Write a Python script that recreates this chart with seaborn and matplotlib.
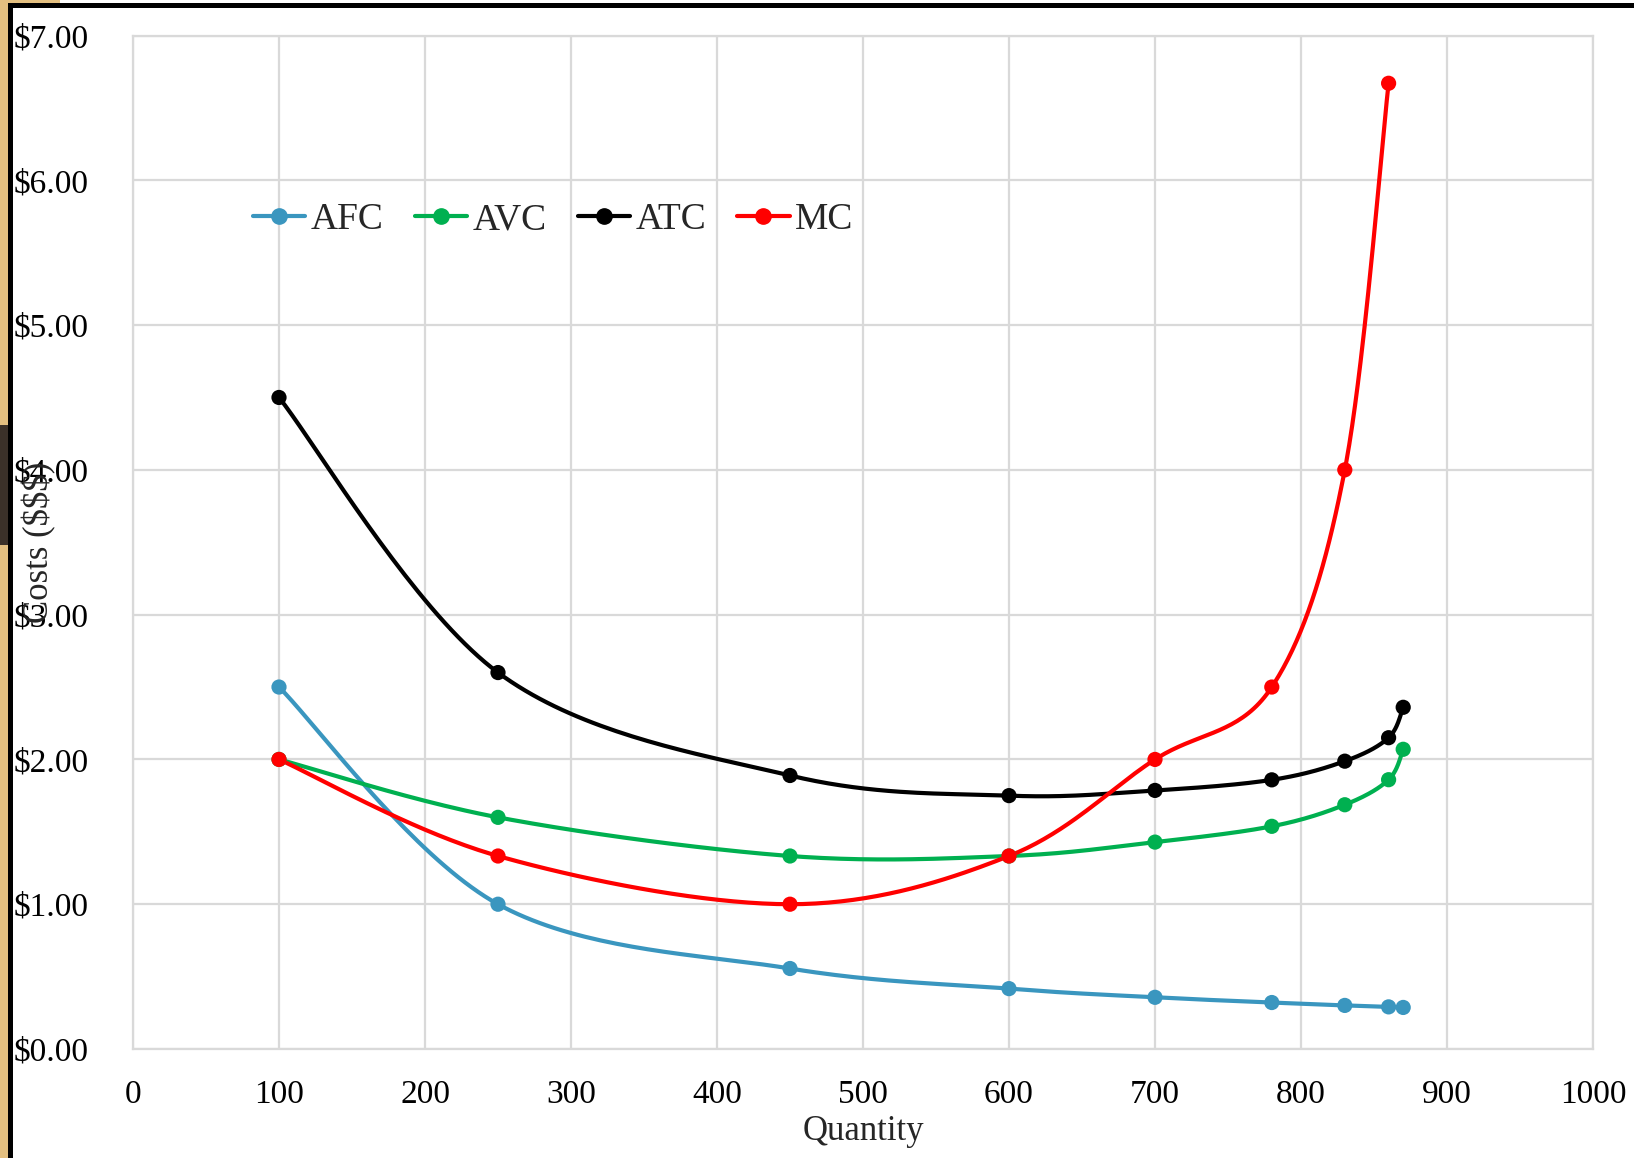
import numpy as np
import pandas as pd
import matplotlib
matplotlib.use("Agg")
import matplotlib.pyplot as plt
from matplotlib.lines import Line2D
from matplotlib.patches import Rectangle
import seaborn as sns

# ---- data ----
quantity = [100, 250, 450, 600, 700, 780, 830, 860, 870]
afc = [2.50, 1.00, 0.556, 0.417, 0.357, 0.321, 0.301, 0.291, 0.287]
avc = [2.00, 1.60, 1.333, 1.333, 1.429, 1.538, 1.687, 1.860, 2.070]
atc = [4.50, 2.60, 1.889, 1.750, 1.786, 1.859, 1.988, 2.150, 2.360]
mc_quantity = [100, 250, 450, 600, 700, 780, 830, 860]
mc = [2.00, 1.333, 1.00, 1.333, 2.00, 2.50, 4.00, 6.67]

series_names = ["AFC", "AVC", "ATC", "MC"]
series_colors = ["#3A96BF", "#00B050", "#000000", "#FF0000"]
x_ticks = [0, 100, 200, 300, 400, 500, 600, 700, 800, 900, 1000]
y_ticks = [0, 1, 2, 3, 4, 5, 6, 7]
y_tick_labels = ["$0.00", "$1.00", "$2.00", "$3.00", "$4.00", "$5.00", "$6.00", "$7.00"]


def smooth(xs, ys, n=40):
    """Excel-style smoothed line (cubic Bezier / Catmull-Rom through the points)."""
    P = np.column_stack([xs, ys]).astype(float)
    out = []
    for i in range(len(P) - 1):
        p0 = P[i - 1] if i > 0 else P[i]
        p1 = P[i]
        p2 = P[i + 1]
        p3 = P[i + 2] if i + 2 < len(P) else P[i + 1]
        c1 = p1 + (p2 - p0) / 6.0
        c2 = p2 - (p3 - p1) / 6.0
        t = np.linspace(0, 1, n)[:, None]
        seg = ((1 - t) ** 3) * p1 + 3 * ((1 - t) ** 2) * t * c1 + 3 * (1 - t) * t ** 2 * c2 + t ** 3 * p2
        if i > 0:
            seg = seg[1:]
        out.append(seg)
    out = np.vstack(out)
    return out[:, 0], out[:, 1]


sns.set_theme(style="white")
plt.rcParams["font.family"] = ["Liberation Serif", "DejaVu Serif"]

W, H = 1634, 1158
fig = plt.figure(figsize=(W / 100, H / 100), dpi=100)
fig.patch.set_facecolor("white")

L, R, B, T = 133, 1593, 1049, 35.5
ax = fig.add_axes([L / W, 1 - B / H, (R - L) / W, (B - T) / H])

data = [(quantity, afc), (quantity, avc), (quantity, atc), (mc_quantity, mc)]
for (xs, ys), name, col in zip(data, series_names, series_colors):
    sx, sy = smooth(xs, ys)
    df_line = pd.DataFrame({"Quantity": sx, "Cost": sy})
    sns.lineplot(data=df_line, x="Quantity", y="Cost", color=col, lw=3.0,
                 sort=False, estimator=None, ax=ax, zorder=3)
    df_pts = pd.DataFrame({"Quantity": xs, "Cost": ys})
    sns.scatterplot(data=df_pts, x="Quantity", y="Cost", color=col, s=120,
                    edgecolor="none", ax=ax, zorder=4)

ax.set_xlim(0, 1000)
ax.set_ylim(0, 7)
ax.set_xticks(x_ticks)
ax.set_xticklabels([str(v) for v in x_ticks], fontsize=24)
ax.set_yticks(y_ticks)
ax.set_yticklabels(y_tick_labels, fontsize=24)
ax.grid(True, color="#D9D9D9", lw=1.6)
ax.set_axisbelow(True)
for sp in ax.spines.values():
    sp.set_color("#D9D9D9")
    sp.set_linewidth(1.6)

ax.tick_params(axis="both", length=0, colors="black")
ax.tick_params(axis="x", pad=22)
ax.tick_params(axis="y", pad=(L - 14) * 0.72)
for lab in ax.get_yticklabels():
    lab.set_horizontalalignment("left")

ax.set_xlabel("Quantity", fontsize=25, va="center")
ax.set_ylabel("Costs ($$$)", fontsize=25, va="center")
ax.xaxis.set_label_coords(0.5, -(1131 - B) / (B - T))
ax.yaxis.set_label_coords((39 - L) / (R - L), 0.5)

handles = [Line2D([0], [0], color=c, lw=3.0, marker="o", markersize=11) for c in series_colors]
ax.legend(handles, series_names, loc="center left",
          bbox_to_anchor=((253 - L) / (R - L), 1 - (220 - T) / (B - T)),
          ncol=4, frameon=False, fontsize=27, handlelength=1.39,
          handletextpad=0.15, columnspacing=0.83, borderpad=0, borderaxespad=0,
          numpoints=1)

# screenshot frame decorations
fig.patches.append(Rectangle((0, 0), 8 / W, 1, transform=fig.transFigure,
                             facecolor="#E3BF80", edgecolor="none", zorder=10))
fig.patches.append(Rectangle((0, 1 - 545 / H), 8 / W, 120 / H, transform=fig.transFigure,
                             facecolor="#3B3129", edgecolor="none", zorder=11))
fig.patches.append(Rectangle((0, 1 - 3 / H), 60 / W, 3 / H, transform=fig.transFigure,
                             facecolor="#E3BF80", edgecolor="none", zorder=10))
fig.patches.append(Rectangle((8 / W, 0), 4.5 / W, 1 - 3 / H, transform=fig.transFigure,
                             facecolor="black", edgecolor="none", zorder=12))
fig.patches.append(Rectangle((8 / W, 1 - 7.5 / H), 1 - 8 / W, 4.5 / H, transform=fig.transFigure,
                             facecolor="black", edgecolor="none", zorder=12))

fig.savefig("out.png", dpi=100)
